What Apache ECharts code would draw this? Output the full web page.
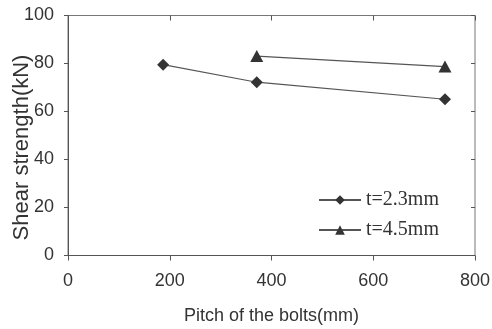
<!DOCTYPE html>
<html>
<head>
<meta charset="utf-8">
<script src="https://cdn.jsdelivr.net/npm/echarts@6/dist/echarts.min.js"></script>
<style>
  html, body { margin: 0; padding: 0; background: #fff; }
  #chart { width: 492px; height: 329px; }
</style>
</head>
<body>
<div id="chart"></div>
<script>
// readings from the picture
var xTicks = [0, 200, 400, 600, 800];
var yTicks = [0, 20, 40, 60, 80, 100];
var thin = [[187, 79.5], [371, 72.2], [741, 65.1]];   // t=2.3mm
var thick = [[371, 83.1], [741, 78.7]];               // t=4.5mm

var chart = echarts.init(document.getElementById('chart'));
var axisCol = '#555';
var font = 'Liberation Sans, Arial, sans-serif';

function xAx(show, inside) {
  return {
    type: 'value', min: xTicks[0], max: xTicks[xTicks.length - 1], interval: 200,
    name: show ? 'Pitch of the bolts(mm)' : '', nameLocation: 'middle', nameGap: 52,
    nameMoveOverlap: false,
    nameTextStyle: { fontFamily: font, fontSize: 18, color: '#333' },
    axisLine: { show: show, onZero: false, lineStyle: { color: axisCol, width: 1 } },
    axisTick: { show: true, inside: inside, length: 5, lineStyle: { color: axisCol } },
    axisLabel: { show: show, margin: 17, fontFamily: font, fontSize: 18, color: '#333' },
    splitLine: { show: false }
  };
}
function yAx(show, inside) {
  return {
    type: 'value', min: yTicks[0], max: yTicks[yTicks.length - 1], interval: 20,
    name: show ? 'Shear strength(kN)' : '', nameLocation: 'middle', nameGap: 35,
    nameMoveOverlap: false,
    nameTextStyle: { fontFamily: font, fontSize: 22, color: '#333', padding: [0, 24, 0, 0] },
    axisLine: { show: show, onZero: false, lineStyle: { color: axisCol, width: 1 } },
    axisTick: { show: true, inside: inside, length: 4, lineStyle: { color: axisCol } },
    axisLabel: { show: show, margin: 14, fontFamily: font, fontSize: 18, color: '#333' },
    splitLine: { show: false }
  };
}

var option = {
  backgroundColor: '#fff',
  animation: false,
  grid: {
    left: 68, right: 17, top: 15.5, bottom: 73.5,
    outerBoundsMode: 'none', containLabel: false,
    show: true, borderColor: '#777', borderWidth: 1
  },
  xAxis: [xAx(true, false), xAx(false, true)],
  yAxis: [yAx(true, false), yAx(false, true)],
  legend: {
    orient: 'vertical', left: 313, top: 185, itemGap: 10,
    itemWidth: 42, itemHeight: 12,
    textStyle: { fontFamily: 'Liberation Serif, Times New Roman, serif', fontSize: 20, color: '#333' },
    data: ['t=2.3mm', 't=4.5mm']
  },
  series: [
    {
      name: 't=2.3mm', type: 'line', data: thin,
      symbol: 'diamond', symbolSize: 12,
      lineStyle: { color: '#555', width: 1.2 },
      itemStyle: { color: '#333' }
    },
    {
      name: 't=4.5mm', type: 'line', data: thick,
      symbol: 'triangle', symbolSize: [13, 12],
      lineStyle: { color: '#555', width: 1.2 },
      itemStyle: { color: '#333' }
    }
  ]
};
chart.setOption(option);
</script>
</body>
</html>
